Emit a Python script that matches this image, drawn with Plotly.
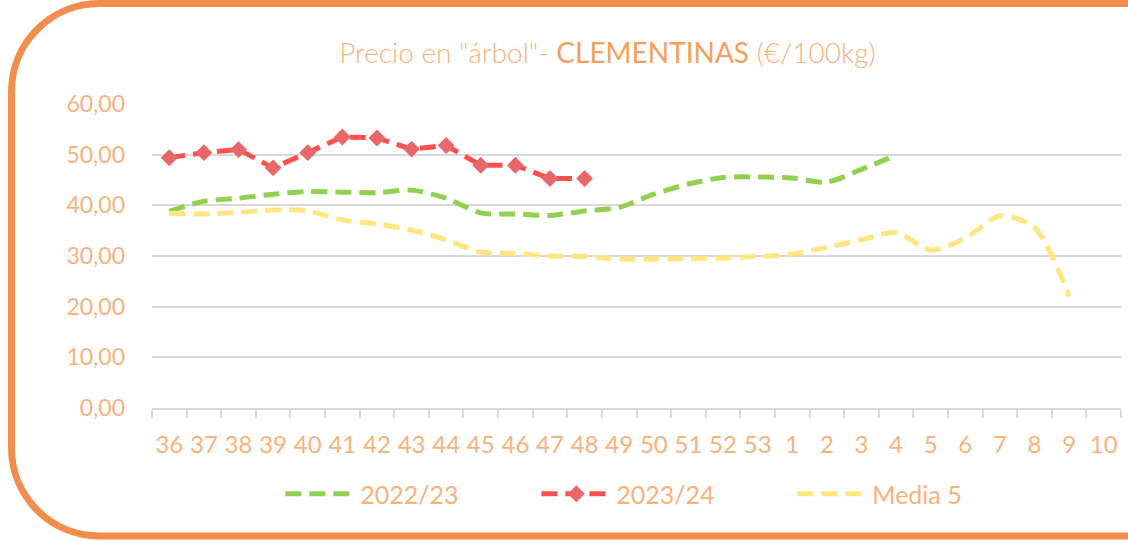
import plotly.graph_objects as go

weeks = ["36", "37", "38", "39", "40", "41", "42", "43", "44", "45", "46", "47", "48",
         "49", "50", "51", "52", "53", "1", "2", "3", "4", "5", "6", "7", "8", "9", "10"]

s2022_23 = [38.8, 40.8, 41.4, 42.2, 42.7, 42.6, 42.5, 43.0, 41.4, 38.5, 38.3, 38.0, 38.9,
            39.6, 42.2, 44.2, 45.5, 45.6, 45.4, 44.6, 47.1, 49.9,
            None, None, None, None, None, None]
s2023_24 = [49.4, 50.4, 51.0, 47.4, 50.4, 53.5, 53.3, 51.1, 51.8, 47.9, 47.9, 45.3, 45.3] + [None] * 15
media5 = [38.4, 38.3, 38.6, 39.1, 38.9, 37.1, 36.3, 35.1, 33.2, 30.8, 30.5, 30.0, 29.9,
          29.4, 29.4, 29.5, 29.6, 29.9, 30.4, 31.7, 33.2, 34.6, 31.2, 33.5, 37.9, 35.6, 22.1, None]

W, H = 1128, 541
ML, MR, MT, MB = 152, 7, 104, 133
PW, PH = W - ML - MR, H - MT - MB

TXT = "#F8B27C"
DARK = "#F5A05A"
GRID = "#D9D9D9"
FONT = "Lato"

fig = go.Figure()
fig.add_trace(go.Scatter(x=weeks, y=s2022_23, name="2022/23", mode="lines",
                         line=dict(color="#92D050", width=5, dash="16px,8px", shape="spline", smoothing=0.8),
                         connectgaps=False))
fig.add_trace(go.Scatter(x=weeks, y=s2023_24, name="2023/24", mode="lines+markers",
                         line=dict(color="#FF5050", width=5, dash="16px,8px"),
                         marker=dict(symbol="diamond", size=13, color="#E8676B")))
fig.add_trace(go.Scatter(x=weeks, y=media5, name="Media 5", mode="lines",
                         line=dict(color="#FFE680", width=5, dash="16px,8px", shape="spline", smoothing=0.8)))


def px2paper(px, py):
    return (px - ML) / PW, (MT + PH - py) / PH


Lx, T, B, R, r = 11.5, 3.5, 536.0, 1160.0, 88.0
k = 0.5523 * r
pts = [("M", [(R, T)]), ("L", [(Lx + r, T)]),
       ("C", [(Lx + r - k, T), (Lx, T + r - k), (Lx, T + r)]),
       ("L", [(Lx, B - r)]),
       ("C", [(Lx, B - r + k), (Lx + r - k, B), (Lx + r, B)]),
       ("L", [(R, B)])]
path = ""
for cmd, coords in pts:
    path += cmd + " " + " ".join("%.5f,%.5f" % px2paper(a, b) for a, b in coords) + " "

fig.add_shape(type="path", xref="paper", yref="paper", path=path.strip(),
              line=dict(color="#F28E4B", width=7))

fig.update_layout(
    width=W, height=H,
    margin=dict(l=ML, r=MR, t=MT, b=MB, autoexpand=False),
    paper_bgcolor="white", plot_bgcolor="white",
    font=dict(family=FONT, color=TXT),
    title=dict(text='Precio en "árbol"- <span style="color:%s;font-weight:400">CLEMENTINAS</span> (€/100kg)' % DARK,
               x=607.5 / W, xanchor="center", xref="container",
               y=1 - 53 / H, yanchor="middle", yref="container",
               font=dict(family=FONT, size=28, color=TXT, weight=300)),
    showlegend=True,
    legend=dict(orientation="h", x=(290 - ML) / PW - 0.01, xanchor="left",
                y=(MT + PH - 494) / PH, yanchor="middle",
                font=dict(family=FONT, size=25, color=TXT),
                itemwidth=70, entrywidth=171, entrywidthmode="pixels",
                bgcolor="rgba(0,0,0,0)"),
    xaxis=dict(type="category", showgrid=False, showline=True, linecolor=GRID, linewidth=1.5,
               ticks="outside", tickson="boundaries", ticklen=8, tickcolor=GRID, tickwidth=1.5,
               tickangle=0, automargin=False,
               tickfont=dict(family=FONT, size=24, color=TXT), ticklabelstandoff=14,
               range=[-0.5, len(weeks) - 0.5]),
    yaxis=dict(range=[0, 60], dtick=10, tickformat=",.2f", showgrid=True, gridcolor=GRID, gridwidth=1.5,
               zeroline=False, showline=False, ticks="", automargin=False,
               tickfont=dict(family=FONT, size=23, color=TXT), ticklabelstandoff=26),
    separators=",.",
)

fig.write_html("out.html", config={"displayModeBar": False},
               post_script="document.body.style.margin='0';document.body.style.padding='0';")
